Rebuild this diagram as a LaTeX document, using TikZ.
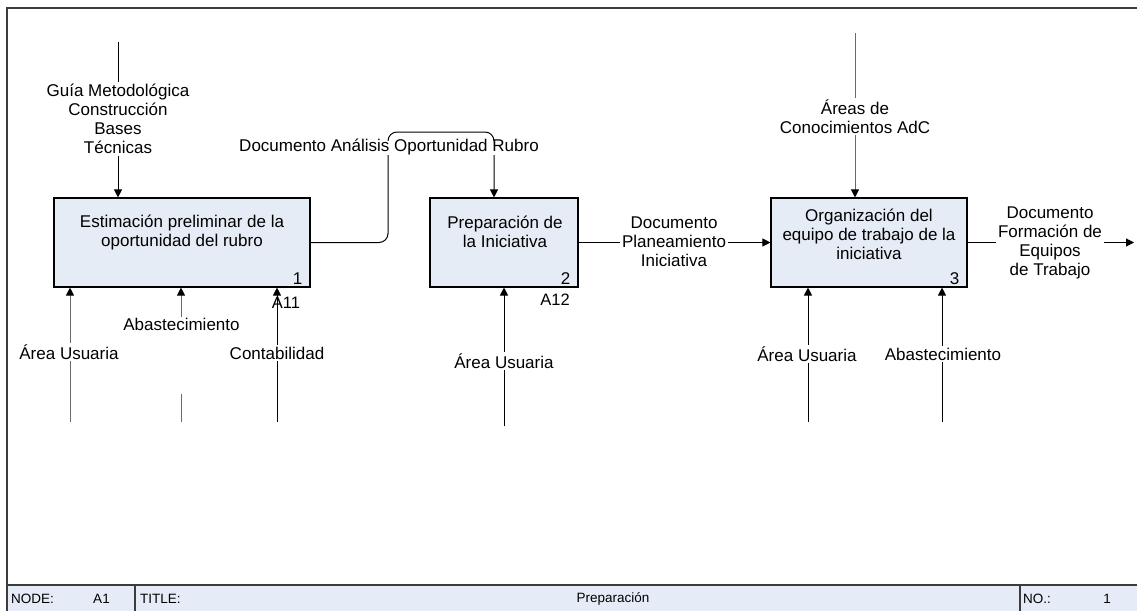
\documentclass[tikz,border=0pt]{standalone}
\usepackage{fontspec}
\setmainfont{Liberation Sans}
\usetikzlibrary{arrows.meta}
\definecolor{boxfill}{RGB}{230,236,246}
\definecolor{barfill}{RGB}{230,236,247}
\definecolor{wiregray}{RGB}{105,105,105}
\definecolor{framegray}{RGB}{60,60,60}
\tikzset{
  act/.style={draw=black, fill=boxfill, line width=1.1pt, inner sep=0pt,
              minimum height=89pt},
  txt/.style={font=\fontsize{17}{19}\selectfont, align=center, inner sep=0pt},
  lbl/.style={txt, fill=white, inner sep=2pt},
  numtxt/.style={font=\fontsize{17}{19}\selectfont, inner sep=0pt},
  ref/.style={font=\fontsize{16.5}{18}\selectfont, inner sep=0pt},
  wire/.style={line width=1pt, draw=black},
  gwire/.style={wire, draw=wiregray},
  arr/.style={-{Triangle[length=8pt,width=8pt,color=black]}},
  frame/.style={line width=1.5pt, draw=framegray},
  bartxt/.style={font=\fontsize{13.5}{15}\selectfont, inner sep=0pt},
}
\begin{document}
\begin{tikzpicture}[x=1pt,y=-1pt]
\useasboundingbox (0,0) rectangle (1137,610);

% sheet frame and title bar
\draw[frame] (1138,8) -- (7,8) -- (7,585);
\draw[frame, fill=barfill] (7,585) rectangle (1139,612);
\draw[frame] (135,585) -- (135,612);
\draw[frame] (1020,585) -- (1020,612);
\node[bartxt, anchor=west] (nodekey) at (11,598.5) {NODE:};
\node[bartxt] (nodeval) at (101.5,598.5) {A1};
\node[bartxt, anchor=west] (titlekey) at (140,598.5) {TITLE:};
\node[bartxt] (titleval) at (613,598.5) {Preparación};
\node[bartxt, anchor=west] (nokey) at (1023,598.5) {NO.:};
\node[bartxt] (noval) at (1107,598.5) {1};

% activity boxes
\node[act, minimum width=256pt] (b1) at (182,242.5) {};
\node[act, minimum width=148pt] (b2) at (504,242.5) {};
\node[act, minimum width=196pt] (b3) at (869,242.5) {};
\node[txt] (t1) at (182,233) {Estimación preliminar de la\\oportunidad del rubro};
\node[txt] (t2) at (505,232) {Preparación de\\la Iniciativa};
\node[txt] (t3) at (869,234) {Organización del\\equipo de trabajo de la\\iniciativa};
\node[numtxt, anchor=south east] (n1) at ([xshift=-8pt,yshift=3pt]b1.south east) {1};
\node[numtxt, anchor=south east] (n2) at ([xshift=-8pt,yshift=3pt]b2.south east) {2};
\node[numtxt, anchor=south east] (n3) at ([xshift=-8pt,yshift=3pt]b3.south east) {3};
\node[ref] (r1) at (286,303) {A11};
\node[ref] (r2) at (555,300) {A12};

% controls
\coordinate (c1) at (118,42);
\draw[wire, arr] (c1) -- (c1 |- b1.north);
\node[lbl] (l1) at (118,119) {Guía Metodológica\\Construcción\\Bases\\Técnicas};

\coordinate (c3) at (855,33);
\draw[gwire, arr] (c3) -- (c3 |- b3.north);
\node[lbl] (l5) at (855,116.5) {Áreas de\\Conocimientos AdC};

% outputs
\coordinate (k1) at (388,132);
\coordinate (k2) at (494,132);
\draw[wire, arr, rounded corners=9pt] (b1.east) -- (k1 |- b1.east) -- (k1)
  -- (k2) -- (k2 |- b2.north);
\node[txt, fill=white, text height=10pt, text depth=4pt, inner xsep=1pt]
  (l2) at (389,148) {Documento Análisis Oportunidad Rubro};

\draw[wire, arr] (b2.east) -- (b3.west);
\node[lbl] (l3) at (674,242) {Documento\\Planeamiento\\Iniciativa};

\coordinate (o3) at (1134,242.5);
\draw[wire, arr] (b3.east) -- (o3);
\node[lbl] (l4) at (1050,243) {Documento\\Formación de\\Equipos\\de Trabajo};

% mechanisms
\coordinate (m1) at (70,422);
\draw[gwire, arr] (m1) -- (m1 |- b1.south);
\node[lbl] (l6) at (69,352) {Área Usuaria};

\coordinate (m2) at (181,422);
\draw[gwire, arr] (m2) -- (m2 |- b1.south);
\node[txt, fill=white, text height=13pt, text depth=64pt, inner xsep=2pt,
      anchor=base] (l7) at (181.5,330) {Abastecimiento};

\coordinate (m3) at (277,422);
\draw[wire, arr] (m3) -- (m3 |- b1.south);
\node[lbl] (l8) at (277,353) {Contabilidad};

\coordinate (m4) at (504,426);
\draw[wire, arr] (m4) -- (m4 |- b2.south);
\node[lbl] (l9) at (504,361) {Área Usuaria};

\coordinate (m5) at (808,422);
\draw[wire, arr] (m5) -- (m5 |- b3.south);
\node[lbl] (l10) at (807,354) {Área Usuaria};

\coordinate (m6) at (942,422);
\draw[wire, arr] (m6) -- (m6 |- b3.south);
\node[lbl] (l11) at (943,354) {Abastecimiento};
\end{tikzpicture}
\end{document}
